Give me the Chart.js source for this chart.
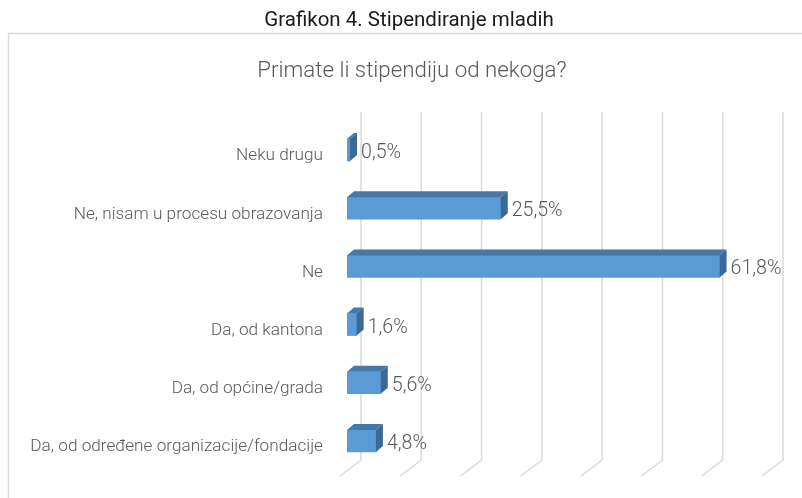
<!DOCTYPE html>
<html>
<head>
<meta charset="utf-8">
<script src="https://cdn.jsdelivr.net/npm/chart.js@4.4.1/dist/chart.umd.min.js"></script>
<style>
  html, body { margin: 0; padding: 0; background: #fff; }
  #wrap { width: 802px; height: 498px; }
</style>
</head>
<body>
<div id="wrap"><canvas id="myChart" width="802" height="498"></canvas></div>
<script>
// chart data
const categories = [
  'Neku drugu',
  'Ne, nisam u procesu obrazovanja',
  'Ne',
  'Da, od kantona',
  'Da, od općine/grada',
  'Da, od određene organizacije/fondacije'
];
const percentages = [0.5, 25.5, 61.8, 1.6, 5.6, 4.8];
const gridValues = [0, 10, 20, 30, 40, 50, 60, 70];

const mainTitle = 'Grafikon 4. Stipendiranje mladih';
const chartTitle = 'Primate li stipendiju od nekoga?';

const FONT = 'Roboto, sans-serif';
const DEPTH_X = 7;
const DEPTH_Y = 6;

// frame + titles
const framePlugin = {
  id: 'frame',
  beforeDraw(chart) {
    const ctx = chart.ctx;
    ctx.save();
    ctx.strokeStyle = '#d9d9d9';
    ctx.lineWidth = 1.5;
    ctx.strokeRect(8.5, 33.5, 820, 500);
    ctx.textAlign = 'center';
    ctx.textBaseline = 'alphabetic';
    ctx.fillStyle = '#1a1a1a';
    ctx.font = '20.5px ' + FONT;
    ctx.fillText(mainTitle, 409, 26);
    ctx.fillStyle = '#595959';
    ctx.font = '300 22.3px ' + FONT;
    ctx.fillText(chartTitle, 412, 77);
    ctx.restore();
  }
};

// back wall gridlines with the floor edge
const wallGrid = {
  id: 'wallGrid',
  beforeDatasetsDraw(chart) {
    const ctx = chart.ctx;
    const xs = chart.scales.x;
    const area = chart.chartArea;
    ctx.save();
    ctx.strokeStyle = '#d9d9d9';
    ctx.lineWidth = 1.5;
    gridValues.forEach((v) => {
      const px = xs.getPixelForValue(v) + 14;
      ctx.beginPath();
      ctx.moveTo(px, area.top - 9);
      ctx.lineTo(px, area.bottom - 10);
      ctx.lineTo(px - 21, area.bottom + 6);
      ctx.stroke();
    });
    ctx.restore();
  }
};

// top and side faces of the bars + value labels
const bars3d = {
  id: 'bars3d',
  afterDatasetsDraw(chart) {
    const ctx = chart.ctx;
    const meta = chart.getDatasetMeta(0);
    ctx.save();
    meta.data.forEach((bar, i) => {
      const top = bar.y - bar.height / 2;
      const bottom = bar.y + bar.height / 2;
      const left = bar.base;
      const right = bar.x;
      // top face
      ctx.fillStyle = '#4678a8';
      ctx.beginPath();
      ctx.moveTo(left, top);
      ctx.lineTo(left + DEPTH_X, top - DEPTH_Y);
      ctx.lineTo(right + DEPTH_X, top - DEPTH_Y);
      ctx.lineTo(right, top);
      ctx.closePath();
      ctx.fill();
      // side face
      ctx.fillStyle = '#3b6894';
      ctx.beginPath();
      ctx.moveTo(right, top);
      ctx.lineTo(right + DEPTH_X, top - DEPTH_Y);
      ctx.lineTo(right + DEPTH_X, bottom - DEPTH_Y);
      ctx.lineTo(right, bottom);
      ctx.closePath();
      ctx.fill();
      // label
      ctx.fillStyle = '#595959';
      ctx.font = '300 19.6px ' + FONT;
      ctx.textAlign = 'left';
      ctx.textBaseline = 'alphabetic';
      ctx.fillText(percentages[i].toFixed(1).replace('.', ',') + '%', right + 11, bar.y + 8);
    });
    ctx.restore();
  }
};

const data = {
  labels: categories,
  datasets: [{
    label: 'Primate li stipendiju od nekoga?',
    data: percentages,
    backgroundColor: '#5b9bd5',
    borderWidth: 0,
    barThickness: 22
  }]
};

const config = {
  type: 'bar',
  data: data,
  options: {
    indexAxis: 'y',
    responsive: false,
    animation: false,
    layout: {
      padding: { top: 121, right: 33, bottom: 28, left: 0 }
    },
    plugins: {
      legend: { display: false },
      tooltip: { enabled: false }
    },
    scales: {
      x: {
        type: 'linear',
        min: 0,
        max: 70,
        display: false
      },
      y: {
        grid: { display: false, drawTicks: false },
        border: { display: false },
        ticks: {
          color: '#595959',
          padding: 24,
          labelOffset: 6,
          font: { family: FONT, size: 17.2, weight: 300 }
        },
        afterFit(scale) {
          scale.width = 347;
          scale.paddingTop = 0;
          scale.paddingBottom = 0;
        }
      }
    }
  },
  plugins: [framePlugin, wallGrid, bars3d]
};

const myChart = new Chart(document.getElementById('myChart'), config);
</script>
</body>
</html>
